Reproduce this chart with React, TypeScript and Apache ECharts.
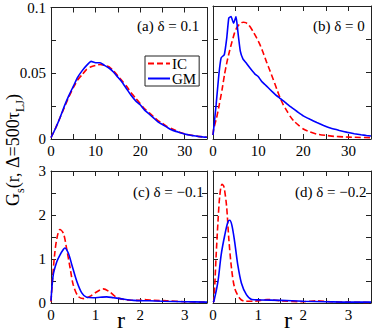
import React, { useEffect, useRef } from "react";
import * as echarts from "echarts";

const FONT = "Liberation Serif";

// Panel (a) δ = 0.1 : x = 0..35
const aX = [0,1,2,3,4,5,6,7,8,9,10,11,12,13,14,15,16,17,18,19,20,21,22,23,24,25,26,27,28,29,30,31,32,33,34,35];
const aGM = [0.001,0.008,0.016,0.025,0.033,0.040,0.047,0.052,0.056,0.059,0.058,0.058,0.056,0.054,0.051,0.047,0.043,0.038,0.033,0.029,0.026,0.022,0.019,0.016,0.013,0.011,0.009,0.007,0.0058,0.0048,0.0038,0.003,0.0025,0.002,0.0016,0.0013];
const aIC = [0.001,0.008,0.016,0.024,0.032,0.039,0.045,0.049,0.053,0.055,0.056,0.0567,0.056,0.055,0.052,0.048,0.044,0.040,0.035,0.031,0.027,0.023,0.020,0.017,0.014,0.012,0.0095,0.008,0.0065,0.005,0.004,0.0032,0.0026,0.002,0.0016,0.0013];

// Panel (b) δ = 0
const bGM: number[][] = [[0,0.003],[0.15,0.0075],[0.7,0.026],[1.3,0.0485],[1.8,0.061],[2.5,0.0634],[3.05,0.076],[3.5,0.091],[4.0,0.092],[4.55,0.087],[5.1,0.092],[5.5,0.081],[6.05,0.066],[6.65,0.060],[7.4,0.057],[8.15,0.0535],[9.25,0.049],[10,0.047],[10.75,0.0435],[11.5,0.041],[12.25,0.0385],[13,0.036],[13.75,0.0336],[14.7,0.031],[15.6,0.0286],[16.5,0.026],[17.45,0.0236],[18.7,0.0205],[20,0.0174],[21.5,0.0148],[23,0.0124],[24.5,0.0102],[26,0.0082],[28,0.0064],[29.8,0.005],[31.3,0.004],[32.8,0.0032],[34,0.0026],[35,0.0022]];
const bIC: number[][] = [[0,0.003],[0.15,0.0075],[0.8,0.016],[1.4,0.026],[2,0.037],[2.55,0.0485],[3.1,0.058],[3.65,0.066],[4.2,0.073],[4.75,0.0796],[5.3,0.084],[5.85,0.0863],[6.3,0.0875],[6.75,0.0878],[7.25,0.0875],[7.75,0.0863],[8.3,0.084],[8.85,0.081],[9.6,0.0765],[10.4,0.071],[11.1,0.065],[11.85,0.058],[12.6,0.0515],[13.35,0.0448],[14.1,0.0378],[14.85,0.031],[15.6,0.0255],[16.4,0.021],[17.1,0.017],[17.85,0.0137],[19,0.0102],[20,0.0075],[21.5,0.0053],[23,0.0037],[25,0.0027],[26.8,0.002],[29,0.0016],[31.3,0.0013],[35,0.001]];

// Panel (c) δ = −0.1
const cIC: number[][] = [[0,0.03],[0.03,0.49],[0.08,1.09],[0.13,1.46],[0.2,1.67],[0.28,1.58],[0.35,1.24],[0.43,0.79],[0.5,0.41],[0.61,0.15],[0.73,0.1],[0.87,0.15],[1.02,0.25],[1.17,0.32],[1.32,0.25],[1.47,0.13],[1.7,0.07],[2.0,0.06],[2.1,0.08],[2.3,0.06],[2.6,0.05],[3.0,0.03],[3.5,0.02]];
const cGM: number[][] = [[0,0.05],[0.05,0.64],[0.13,0.94],[0.2,1.09],[0.28,1.22],[0.31,1.25],[0.39,1.13],[0.47,0.86],[0.58,0.49],[0.69,0.23],[0.8,0.13],[0.95,0.12],[1.1,0.13],[1.25,0.14],[1.4,0.12],[1.55,0.1],[1.85,0.06],[2.2,0.05],[2.5,0.04],[3.0,0.03],[3.5,0.02]];

// Panel (d) δ = −0.2
const dIC: number[][] = [[0,0.02],[0.02,0.04],[0.07,1.09],[0.11,1.84],[0.15,2.44],[0.2,2.7],[0.24,2.65],[0.3,2.21],[0.35,1.46],[0.41,0.79],[0.48,0.34],[0.59,0.11],[0.7,0.04],[0.9,0.04],[1.2,0.08],[1.5,0.05],[2.0,0.03],[2.3,0.05],[2.6,0.03],[3.0,0.02],[3.5,0.01]];
const dGM: number[][] = [[0,0.02],[0.02,0.04],[0.11,0.49],[0.18,1.09],[0.26,1.54],[0.33,1.84],[0.37,1.88],[0.42,1.76],[0.48,1.39],[0.55,0.86],[0.63,0.45],[0.74,0.19],[0.86,0.08],[1.05,0.07],[1.5,0.06],[2.0,0.04],[2.5,0.03],[3.0,0.02],[3.5,0.02]];

const panelLabels = ["(a) δ = 0.1", "(b) δ = 0", "(c) δ = −0.1", "(d) δ = −0.2"];
const seriesNames = ["IC", "GM"];

const AX = "#222";
const tick = { show: true, inside: true, length: 5, lineStyle: { color: AX, width: 1 } };
const line = { show: true, onZero: false, lineStyle: { color: AX, width: 1 } };

function isMult(v: number, m: number) {
  return Math.abs(v / m - Math.round(v / m)) < 1e-6;
}

export default function App() {
  const ref = useRef<HTMLDivElement>(null);
  useEffect(() => {
    const chart = echarts.init(ref.current!, null, { renderer: "svg" });
    const grids = [
      { left: 51, top: 6, width: 156, height: 133 },
      { left: 213, top: 6, width: 158, height: 133 },
      { left: 51, top: 171, width: 156, height: 132 },
      { left: 213, top: 171, width: 158, height: 132 },
    ];
    const xCfg = [
      { max: 35, interval: 5, lab: 10 },
      { max: 35, interval: 5, lab: 10 },
      { max: 3.5, interval: 0.5, lab: 1 },
      { max: 3.5, interval: 0.5, lab: 1 },
    ];
    const yCfg = [
      { max: 0.1, interval: 0.025, lab: 0.05, show: true },
      { max: 0.1, interval: 0.025, lab: 0.05, show: false },
      { max: 3, interval: 0.5, lab: 1, show: true },
      { max: 3, interval: 0.5, lab: 1, show: false },
    ];
    const labelStyle = { fontFamily: FONT, fontSize: 15, color: "#000" };
    const xAxis: any[] = [];
    const yAxis: any[] = [];
    for (let p = 0; p < 4; p++) {
      const xc = xCfg[p];
      const yc = yCfg[p];
      xAxis.push({
        type: "value", gridIndex: p, min: 0, max: xc.max, interval: xc.interval, position: "bottom",
        axisLine: line, axisTick: tick, splitLine: { show: false },
        axisLabel: { ...labelStyle, margin: 4, formatter: (v: number) => (isMult(v, xc.lab) && v < xc.max - 1e-9 ? String(+v.toFixed(3)) : "") },
      });
      xAxis.push({
        type: "value", gridIndex: p, min: 0, max: xc.max, interval: xc.interval, position: "top",
        axisLine: line, axisTick: tick, splitLine: { show: false }, axisLabel: { show: false },
      });
      yAxis.push({
        type: "value", gridIndex: p, min: 0, max: yc.max, interval: yc.interval, position: "left",
        axisLine: line, axisTick: tick, splitLine: { show: false },
        axisLabel: { show: yc.show, ...labelStyle, margin: 5, formatter: (v: number) => (isMult(v, yc.lab) ? String(+v.toFixed(3)) : "") },
      });
      yAxis.push({
        type: "value", gridIndex: p, min: 0, max: yc.max, interval: yc.interval, position: "right",
        axisLine: line, axisTick: tick, splitLine: { show: false }, axisLabel: { show: false },
      });
    }
    const panelData = [
      [aX.map((x, i) => [x, aIC[i]]), aX.map((x, i) => [x, aGM[i]])],
      [bIC, bGM],
      [cIC, cGM],
      [dIC, dGM],
    ];
    const series: any[] = [];
    for (let p = 0; p < 4; p++) {
      series.push({
        type: "line", name: seriesNames[0], xAxisIndex: 2 * p, yAxisIndex: 2 * p, data: panelData[p][0],
        symbol: "none", smooth: p >= 2 ? 0.3 : 0.15, z: 2,
        lineStyle: { color: "#ff0000", width: 1.6, type: [6, 3] }, itemStyle: { color: "#ff0000" },
      });
      series.push({
        type: "line", name: seriesNames[1], xAxisIndex: 2 * p, yAxisIndex: 2 * p, data: panelData[p][1],
        symbol: "none", smooth: p >= 2 ? 0.3 : 0.15, z: 3,
        lineStyle: { color: "#0000ff", width: 1.6 }, itemStyle: { color: "#0000ff" },
      });
    }
    const labelPos = [[137, 26], [313, 26], [133, 192], [295, 192]];
    const graphic: any[] = labelPos.map((pos, i) => ({
      type: "text", x: pos[0], y: pos[1],
      style: { text: panelLabels[i], fontFamily: FONT, fontSize: 15, fill: "#000", align: "left", verticalAlign: "middle" },
    }));
    graphic.push({
      type: "text", x: 13, y: 150, rotation: Math.PI / 2,
      style: {
        text: "{m|G}{s|s}{m|(r, Δ=500τ}{s|LJ}{m|)}",
        align: "center", verticalAlign: "middle",
        rich: {
          m: { fontFamily: FONT, fontSize: 18, lineHeight: 26, fill: "#000" },
          s: { fontFamily: FONT, fontSize: 12, verticalAlign: "bottom", fill: "#000" },
        },
      },
    });
    graphic.push({ type: "text", x: 121, y: 332, style: { text: "r", fontFamily: FONT, fontSize: 24, fill: "#000", align: "center", verticalAlign: "bottom" } });
    graphic.push({ type: "text", x: 288, y: 332, style: { text: "r", fontFamily: FONT, fontSize: 24, fill: "#000", align: "center", verticalAlign: "bottom" } });

    chart.setOption({
      animation: false,
      textStyle: { fontFamily: FONT },
      grid: grids,
      xAxis,
      yAxis,
      series,
      legend: {
        data: seriesNames, orient: "vertical", left: 145, top: 56, itemGap: 0, itemWidth: 22, itemHeight: 10,
        padding: [0, 3, 0, 2], borderColor: AX, borderWidth: 1, backgroundColor: "#fff",
        itemStyle: { opacity: 0, borderWidth: 0 },
        textStyle: { fontFamily: FONT, fontSize: 15, color: "#000", lineHeight: 11, padding: [0, 0, 0, -3] },
      },
      graphic,
    });
    return () => chart.dispose();
  }, []);
  return <div ref={ref} style={{ position: "absolute", left: 0, top: 0, width: 374, height: 333 }} />;
}
